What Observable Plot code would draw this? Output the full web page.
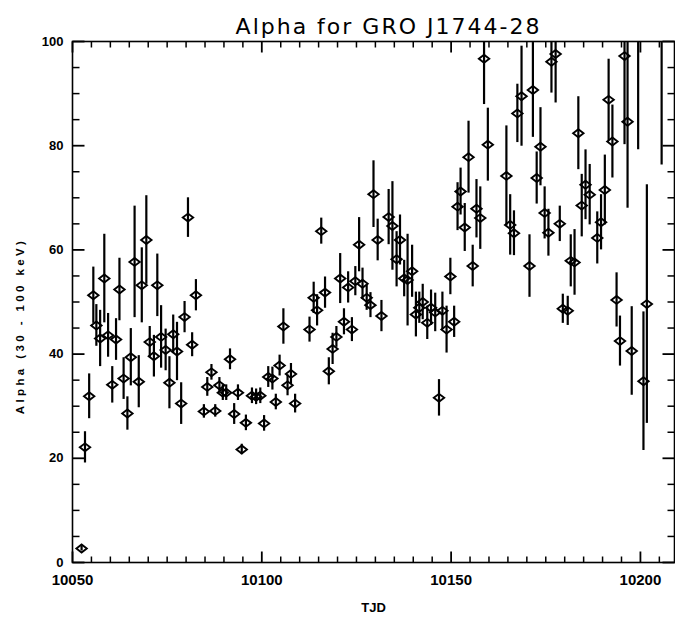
<!DOCTYPE html>
<html>
<head>
<meta charset="utf-8">
<script src="https://cdn.jsdelivr.net/npm/d3@7"></script>
<script src="https://cdn.jsdelivr.net/npm/@observablehq/plot@0.6"></script>
<style>
  body { margin: 0; background: #fff; }
  #chart svg { display: block; }
</style>
</head>
<body>
<div id="chart"></div>
<script>
// Spectral index alpha (30 - 100 keV) of GRO J1744-28 per truncated Julian day
const tjd = [
  10052.4, 10053.3, 10054.4, 10055.5, 10056.3, 10057.3, 10058.4, 10059.4, 10060.5, 10061.5,
  10062.4, 10063.5, 10064.5, 10065.4, 10066.4, 10067.5, 10068.3, 10069.5, 10070.4, 10071.5,
  10072.4, 10073.4, 10074.6, 10075.6, 10076.6, 10077.6, 10078.7, 10079.6, 10080.5, 10081.6,
  10082.6, 10084.7, 10085.6, 10086.7, 10087.7, 10088.8, 10089.7, 10090.6, 10091.6, 10092.7,
  10093.7, 10094.7, 10095.8, 10097.4, 10098.5, 10099.6, 10100.6, 10101.7, 10102.8, 10103.7,
  10104.7, 10105.7, 10106.8, 10107.7, 10108.8, 10112.6, 10113.7, 10114.6, 10115.7, 10116.7,
  10117.7, 10118.7, 10119.7, 10120.7, 10121.7, 10122.8, 10123.8, 10124.7, 10125.7, 10126.6,
  10127.7, 10128.7, 10129.5, 10130.6, 10131.6, 10133.5, 10134.5, 10135.6, 10136.5, 10137.6,
  10138.5, 10139.7, 10140.7, 10141.6, 10142.5, 10143.7, 10144.7, 10145.8, 10146.8, 10147.7,
  10148.8, 10149.8, 10150.8, 10151.7, 10152.5, 10153.6, 10154.6, 10155.7, 10156.7, 10157.7,
  10158.7, 10159.7, 10164.6, 10165.6, 10166.6, 10167.5, 10168.6, 10170.7, 10171.6, 10172.6,
  10173.6, 10174.7, 10175.7, 10176.5, 10177.6, 10178.7, 10179.5, 10180.8, 10181.6, 10182.6,
  10183.6, 10184.5, 10185.5, 10186.6, 10188.6, 10189.6, 10190.6, 10191.6, 10192.6, 10193.7,
  10194.6, 10195.8, 10196.6, 10197.7, 10199.4, 10200.8, 10201.7, 10205.6
];
const alpha = [
  2.7, 22.1, 31.9, 51.3, 45.5, 43.0, 54.5, 43.6, 34.1, 42.8,
  52.4, 35.3, 28.6, 39.4, 57.7, 34.7, 53.2, 61.9, 42.3, 39.6,
  53.2, 43.3, 40.8, 34.5, 43.8, 40.5, 30.5, 47.1, 66.2, 41.8,
  51.3, 29.0, 33.7, 36.5, 29.1, 34.0, 32.6, 32.6, 39.0, 28.5,
  32.6, 21.7, 26.8, 32.0, 31.8, 32.0, 26.7, 35.6, 35.3, 30.8,
  37.8, 45.3, 34.0, 36.2, 30.5, 44.7, 50.8, 48.4, 63.6, 51.8,
  36.7, 41.0, 43.3, 54.5, 46.2, 52.8, 44.7, 54.0, 61.0, 53.5,
  50.8, 49.4, 70.7, 61.9, 47.3, 66.3, 64.6, 58.2, 61.9, 54.5,
  54.2, 55.9, 47.6, 48.9, 50.0, 46.0, 48.9, 48.0, 31.6, 48.3,
  44.7, 54.9, 46.2, 68.3, 71.2, 64.3, 77.8, 56.9, 67.9, 66.1,
  96.7, 80.2, 74.2, 64.8, 63.2, 86.2, 89.5, 56.9, 90.7, 73.8,
  79.8, 67.1, 63.3, 96.1, 97.6, 65.0, 48.7, 48.3, 57.9, 57.6,
  82.4, 68.5, 72.5, 70.6, 62.3, 65.3, 71.5, 88.8, 80.8, 50.4,
  42.5, 97.2, 84.6, 40.6, 112.0, 34.8, 49.6, 112.0
];
const alphaErr = [
  0.5, 3.0, 4.3, 5.4, 4.0, 5.4, 8.5, 4.2, 3.5, 4.0,
  6.0, 4.0, 3.2, 5.5, 10.7, 5.0, 7.2, 8.5, 3.0, 4.0,
  6.0, 6.0, 4.0, 5.0, 3.7, 5.6, 4.0, 3.0, 3.8, 2.3,
  3.0, 1.3, 1.8, 1.5, 1.2, 1.5, 1.5, 1.5, 2.0, 2.0,
  1.5, 1.0, 1.5, 1.5, 1.5, 1.5, 1.5, 2.0, 2.2, 1.5,
  2.0, 3.4, 2.0, 2.0, 1.8, 2.4, 3.0, 3.0, 2.5, 3.0,
  2.6, 3.0, 2.0, 4.8, 2.5, 3.0, 2.3, 2.8, 5.2, 3.0,
  2.4, 2.4, 6.4, 4.0, 3.0, 5.3, 8.5, 5.3, 4.8, 3.5,
  8.8, 5.0, 4.3, 3.0, 3.4, 3.2, 3.4, 3.7, 3.5, 3.6,
  4.5, 3.5, 3.0, 4.6, 4.5, 4.6, 6.9, 4.0, 5.6, 6.0,
  8.8, 7.0, 9.6, 5.8, 4.3, 5.6, 9.6, 6.0, 9.1, 5.0,
  7.5, 5.0, 4.5, 6.0, 9.4, 3.4, 2.8, 2.8, 5.0, 6.3,
  7.0, 6.0, 6.7, 5.8, 5.0, 5.3, 6.7, 7.8, 7.0, 5.2,
  4.8, 17.0, 16.6, 8.5, 32.8, 13.3, 22.9, 35.7
];

// Axis tick values
const xMajorTicks = [10050, 10100, 10150, 10200];
const yMajorTicks = [0, 20, 40, 60, 80, 100];
const xMinorTicks = d3.range(10055, 10210, 5).filter(v => !xMajorTicks.includes(v));
const yMinorTicks = d3.range(5, 100, 5).filter(v => !yMajorTicks.includes(v));

const rows = tjd.map((t, i) => ({t, a: alpha[i], e: alphaErr[i]}));

// Diamond marker, a little wider than tall
const wideDiamond = {
  draw(ctx, size) {
    const r = Math.sqrt(size / Math.PI);
    const w = r * 1.3, h = r;
    ctx.moveTo(-w, 0);
    ctx.lineTo(0, -h);
    ctx.lineTo(w, 0);
    ctx.lineTo(0, h);
    ctx.closePath();
  }
};

const W = 675, H = 621;
const margin = {top: 41, right: 1, bottom: 59, left: 72};
const xDomain = [10050, 10209];
const yDomain = [0, 100];
const innerW = W - margin.left - margin.right;
const innerH = H - margin.top - margin.bottom;
// data units per pixel, used to give ticks a fixed on-screen length
const xPerPx = (xDomain[1] - xDomain[0]) / innerW;
const yPerPx = (yDomain[1] - yDomain[0]) / innerH;

// Tick segments for one side of the frame, pointing inward
function tickRows(values, side, length) {
  return values.map(v => {
    switch (side) {
      case "left":   return {x1: xDomain[0], x2: xDomain[0] + length * xPerPx, y1: v, y2: v};
      case "right":  return {x1: xDomain[1] - length * xPerPx, x2: xDomain[1], y1: v, y2: v};
      case "bottom": return {x1: v, x2: v, y1: yDomain[0], y2: yDomain[0] + length * yPerPx};
      case "top":    return {x1: v, x2: v, y1: yDomain[1] - length * yPerPx, y2: yDomain[1]};
    }
  });
}
const majorTickRows = [
  ...tickRows(xMajorTicks, "bottom", 11), ...tickRows(xMajorTicks, "top", 11),
  ...tickRows(yMajorTicks, "left", 12), ...tickRows(yMajorTicks, "right", 12)
];
const minorTickRows = [
  ...tickRows(xMinorTicks, "bottom", 6), ...tickRows(xMinorTicks, "top", 6),
  ...tickRows(yMinorTicks, "left", 7), ...tickRows(yMinorTicks, "right", 7)
];

const chart = Plot.plot({
  width: W,
  height: H,
  marginLeft: margin.left,
  marginRight: margin.right,
  marginTop: margin.top,
  marginBottom: margin.bottom,
  style: {fontFamily: "'Liberation Sans', Arial, sans-serif", color: "black", background: "white"},
  x: {domain: xDomain, axis: null},
  y: {domain: yDomain, axis: null},
  marks: [
    // error bars and data points
    Plot.ruleX(rows, {x: "t", y1: d => d.a - d.e, y2: d => d.a + d.e, stroke: "black", strokeWidth: 2.2, clip: true}),
    Plot.dot(rows, {x: "t", y: "a", r: 4, symbol: wideDiamond, stroke: "black", fill: "none", strokeWidth: 1.9, clip: true}),

    // frame and inward ticks on all four sides
    Plot.frame({stroke: "black", strokeWidth: 1.6}),
    Plot.link(majorTickRows, {x1: "x1", y1: "y1", x2: "x2", y2: "y2", stroke: "black", strokeWidth: 1.8}),
    Plot.link(minorTickRows, {x1: "x1", y1: "y1", x2: "x2", y2: "y2", stroke: "black", strokeWidth: 1.5}),

    // tick labels
    Plot.axisX(xMajorTicks, {anchor: "bottom", tickSize: 0, tickPadding: 12, tickFormat: "d", label: null, fontSize: 15, fontWeight: "bold"}),
    Plot.axisY(yMajorTicks, {anchor: "left", tickSize: 0, tickPadding: 9, tickFormat: "d", label: null, fontSize: 13, fontWeight: "bold"}),

    // axis titles and chart title
    Plot.text(["TJD"], {frameAnchor: "bottom", dy: 49, fontSize: 13, fontWeight: "bold"}),
    Plot.text(["Alpha (30 - 100 keV)"], {frameAnchor: "left", textAnchor: "middle", rotate: -90, dx: -52, dy: 24, fontSize: 11.5, fontWeight: "bold"}),
    Plot.text(["Alpha for GRO J1744-28"], {frameAnchor: "top", dx: 15, dy: -23, fontSize: 22, fontFamily: "'DejaVu Sans', sans-serif"})
  ]
});

chart.querySelectorAll("text").forEach(t => {
  if (t.textContent.startsWith("Alpha for")) t.setAttribute("letter-spacing", "2");
  if (t.textContent.startsWith("Alpha (")) t.setAttribute("letter-spacing", "3.4");
});

document.getElementById("chart").append(chart);
</script>
</body>
</html>
